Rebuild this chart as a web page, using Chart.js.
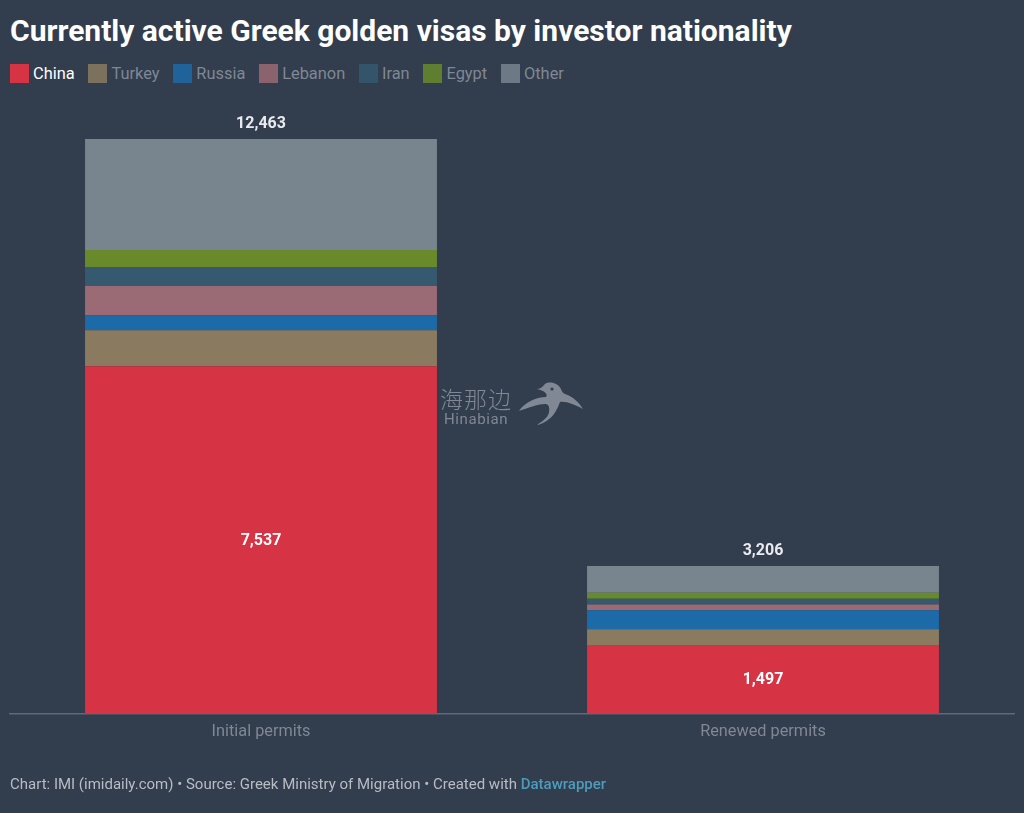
<!DOCTYPE html>
<html>
<head>
<meta charset="utf-8">
<title>Currently active Greek golden visas by investor nationality</title>
<script src="https://cdn.jsdelivr.net/npm/chart.js@4"></script>
<style>
  html, body { margin: 0; padding: 0; background: #323d4d; }
  body { width: 1024px; height: 813px; position: relative; overflow: hidden; font-family: Roboto, sans-serif; }
  #chartCanvas { position: absolute; left: 0; top: 0; }
  h1 { position: absolute; left: 10px; top: 14px; margin: 0; font-size: 30px; line-height: 34px; font-weight: 700; color: #fff; white-space: nowrap; }
  #legend { position: absolute; left: 10px; top: 64px; display: flex; gap: 13.8px; font-size: 16.4px; line-height: 19px; color: #7f8894; }
  .item { display: flex; align-items: center; gap: 4px; }
  .swatch { width: 19px; height: 19px; opacity: 0.85; }
  .item.active { color: #fff; }
  .item.active .swatch { opacity: 1; }
  #footer { position: absolute; left: 10px; top: 775px; font-size: 15px; line-height: 18px; color: #b8bdc5; white-space: nowrap; }
  #footer a { color: #4d9cbc; text-decoration: none; font-weight: 500; }
  #mark { position: absolute; left: 0; top: 0; pointer-events: none; }
  .markText { position: absolute; color: #7f8894; white-space: nowrap; }
  #markCn { left: 440px; top: 385px; font: 300 23px/26px "Noto Sans CJK SC", sans-serif; letter-spacing: 1px; }
  #markEn { left: 444px; top: 411px; font: 400 15px/17px Roboto, sans-serif; letter-spacing: 0.6px; }
</style>
</head>
<body>
<h1>Currently active Greek golden visas by investor nationality</h1>
<div id="legend"></div>
<canvas id="chartCanvas" width="1024" height="813"></canvas>
<div class="markText" id="markCn">海那边</div>
<div class="markText" id="markEn">Hinabian</div>
<svg id="mark" width="1024" height="813">
  <path fill="#7f8894" d="M537,389 C541,389 543,386 545,384 C550,381 558,383 561,389 C562,392 563,393 565,394 C572,396 579,402 583,409 C575,405 566,401 560,402 C557,410 553,420 538,425 C536,424 548,420 549,412 C550,406 548,404 545,404 C537,404 528,408 519,411 C524,403 536,397 546,397 C548,394 545,391 537,389 Z"/>
  <circle cx="552" cy="389" r="1.6" fill="#323d4d"/>
</svg>
<div id="footer">Chart: IMI (imidaily.com) • Source: Greek Ministry of Migration • Created with <a href="#">Datawrapper</a></div>
<script>
const categories = ["Initial permits", "Renewed permits"];
const totals = [12463, 3206];

const china = [7537, 1497];
const turkey = [782, 341];
const russia = [326, 412];
const lebanon = [630, 122];
const iran = [413, 124];
const egypt = [369, 130];
const other = [2406, 580];

const seriesNames = ["China", "Turkey", "Russia", "Lebanon", "Iran", "Egypt", "Other"];
const seriesValues = [china, turkey, russia, lebanon, iran, egypt, other];
const seriesColors = ["#d63344", "#8a7a60", "#1c6aa8", "#9a6a75", "#35596e", "#688a2a", "#78858f"];

function renderLegend() {
  const legend = document.getElementById("legend");
  legend.innerHTML = seriesNames.map((name, i) => `
    <div class="item${i === 0 ? " active" : ""}">
      <span class="swatch" style="background:${seriesColors[i]}"></span><span>${name}</span>
    </div>
  `).join("");
}

// totals above the stacks, China value inside its segment
const valueLabels = {
  id: "valueLabels",
  afterDatasetsDraw(chart) {
    const ctx = chart.ctx;
    const yScale = chart.scales.y;
    const chinaMeta = chart.getDatasetMeta(0);
    ctx.save();
    ctx.font = "700 16px Roboto";
    ctx.textAlign = "center";
    ctx.textBaseline = "middle";
    categories.forEach((_, i) => {
      const bar = chinaMeta.data[i];
      ctx.fillStyle = "#ffffff";
      ctx.fillText(china[i].toLocaleString("en-US"), bar.x, (bar.y + bar.base) / 2 + 1);
      ctx.fillStyle = "#e9ebee";
      ctx.fillText(totals[i].toLocaleString("en-US"), bar.x, yScale.getPixelForValue(totals[i]) - 15);
    });
    ctx.restore();
  },
};

function createChart() {
  const ctx = document.getElementById("chartCanvas");
  new Chart(ctx, {
    type: "bar",
    data: {
      labels: categories,
      datasets: seriesNames.map((name, i) => ({
        label: name,
        data: seriesValues[i],
        backgroundColor: seriesColors[i],
        borderWidth: 0,
        barPercentage: 0.701,
        categoryPercentage: 1,
      })),
    },
    options: {
      responsive: false,
      animation: false,
      layout: { padding: { left: 10, right: 10, top: 139, bottom: 59 } },
      plugins: {
        legend: { display: false },
        title: { display: false },
        tooltip: { enabled: false },
      },
      scales: {
        x: {
          stacked: true,
          afterFit(scale) { scale.height = 40; },
          grid: { display: false, drawTicks: false },
          border: { display: true, color: "#5e6a78", width: 1.5 },
          ticks: { color: "#7f8894", font: { family: "Roboto", size: 16.3 }, padding: 8 },
        },
        y: {
          stacked: true,
          display: false,
          min: 0,
          max: totals[0],
        },
      },
    },
    plugins: [valueLabels],
  });
}

function init() {
  renderLegend();
  document.fonts.load("700 16px Roboto").finally(createChart);
}

init();
</script>
</body>
</html>
